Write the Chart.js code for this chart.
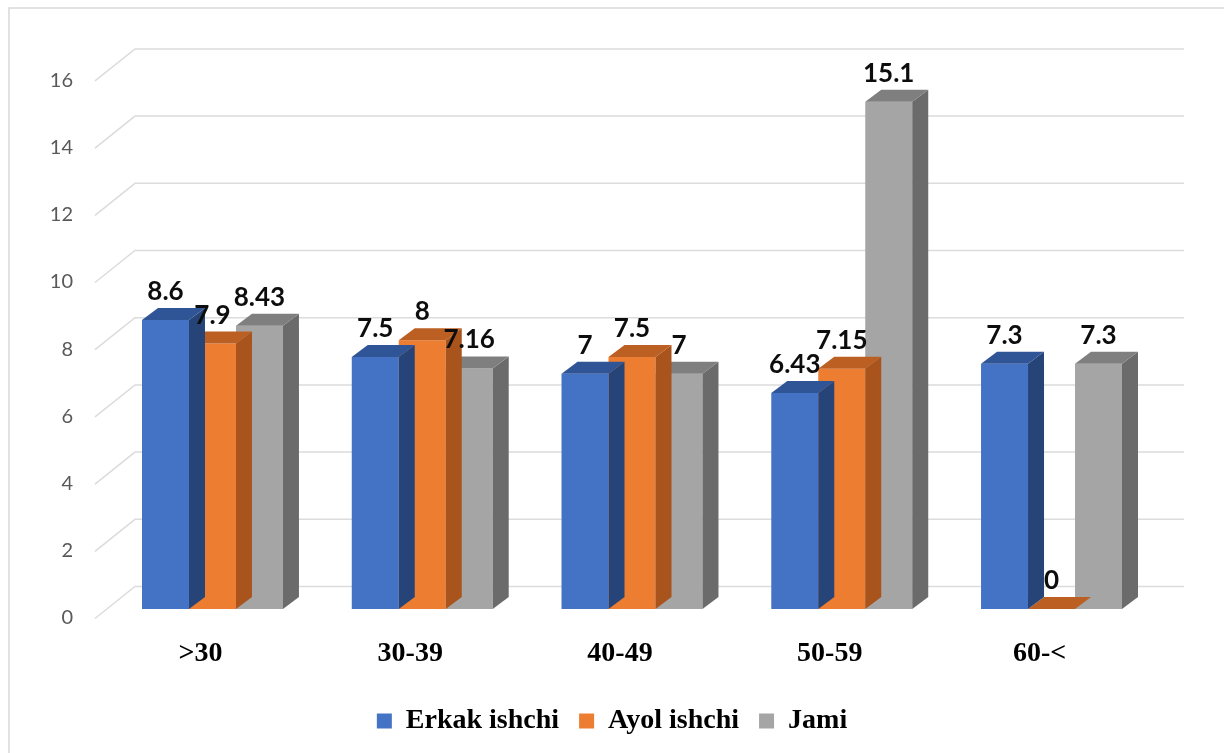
<!DOCTYPE html>
<html><head><meta charset="utf-8">
<script src="https://cdn.jsdelivr.net/npm/chart.js@4"></script>
<style>html,body{margin:0;padding:0;background:#fff;}#wrap{width:1224px;height:753px;}</style>
</head><body><div id="wrap"><canvas id="c" width="1224" height="753"></canvas></div>
<script>
const categories = ['>30', '30-39', '40-49', '50-59', '60-<'];
const erkak = [8.6, 7.5, 7, 6.43, 7.3];
const ayol = [7.9, 8, 7.5, 7.15, 0];
const jami = [8.43, 7.16, 7, 15.1, 7.3];
const seriesNames = ['Erkak ishchi', 'Ayol ishchi', 'Jami'];
const yMin = 0, yMax = 16, yStep = 2;

const frontColors = ['#4472C4', '#ED7D31', '#A5A5A5'];
const topColors = ['#2F5597', '#BC5F22', '#7F7F7F'];
const sideColors = ['#264478', '#A9541C', '#6B6B6B'];
const DX = 16, DY = 12;

const bar3d = {
  id: 'bar3d',
  beforeDraw(chart) {
    const ctx = chart.ctx;
    ctx.save();
    ctx.fillStyle = '#fff';
    ctx.fillRect(0, 0, chart.width, chart.height);
    ctx.strokeStyle = '#D9D9D9';
    ctx.lineWidth = 1.5;
    ctx.strokeRect(9, 8, chart.width + 20, chart.height + 20);
    ctx.restore();
  },
  beforeDatasetsDraw(chart) {
    const ctx = chart.ctx, ys = chart.scales.y;
    ctx.save();
    ctx.strokeStyle = '#DCDCDC';
    ctx.lineWidth = 1.5;
    ys.ticks.forEach(t => {
      const py = ys.getPixelForValue(t.value);
      ctx.beginPath();
      ctx.moveTo(95, py + 9.5);
      ctx.lineTo(135, py - 22.5);
      ctx.lineTo(1184, py - 22.5);
      ctx.stroke();
    });
    ctx.restore();
  },
  afterDatasetDraw(chart, args) {
    const ctx = chart.ctx, i = args.index;
    ctx.save();
    args.meta.data.forEach(el => {
      const p = el.getProps(['x', 'y', 'base', 'width'], true);
      const l = p.x - p.width / 2, r = p.x + p.width / 2;
      ctx.fillStyle = sideColors[i];
      ctx.beginPath();
      ctx.moveTo(r, p.y); ctx.lineTo(r + DX, p.y - DY);
      ctx.lineTo(r + DX, p.base - DY); ctx.lineTo(r, p.base);
      ctx.closePath(); ctx.fill();
      ctx.fillStyle = topColors[i];
      ctx.beginPath();
      ctx.moveTo(l, p.y); ctx.lineTo(r, p.y);
      ctx.lineTo(r + DX, p.y - DY); ctx.lineTo(l + DX, p.y - DY);
      ctx.closePath(); ctx.fill();
    });
    ctx.restore();
  },
  afterDatasetsDraw(chart) {
    const ctx = chart.ctx;
    ctx.save();
    ctx.fillStyle = '#0D0D0D';
    ctx.font = 'bold 26px Lato';
    ctx.textAlign = 'center';
    ctx.textBaseline = 'alphabetic';
    chart.data.datasets.forEach((ds, di) => {
      chart.getDatasetMeta(di).data.forEach((el, j) => {
        const p = el.getProps(['x', 'y'], true);
        ctx.fillText(String(ds.data[j]), p.x, p.y - 20);
      });
    });
    ctx.restore();
  }
};

new Chart(document.getElementById('c'), {
  type: 'bar',
  data: {
    labels: categories,
    datasets: [
      { label: seriesNames[0], data: erkak, backgroundColor: frontColors[0], borderWidth: 0 },
      { label: seriesNames[1], data: ayol, backgroundColor: frontColors[1], borderWidth: 0 },
      { label: seriesNames[2], data: jami, backgroundColor: frontColors[2], borderWidth: 0 }
    ]
  },
  options: {
    responsive: false,
    animation: false,
    devicePixelRatio: 1,
    layout: { padding: { top: 71.4, right: 0, left: 0, bottom: 8 } },
    datasets: { bar: { barPercentage: 1, categoryPercentage: 0.672 } },
    plugins: {
      tooltip: { enabled: false },
      legend: {
        position: 'bottom',
        labels: {
          boxWidth: 15, boxHeight: 15, padding: 20, color: '#000',
          font: { family: "'Liberation Serif'", weight: 'bold', size: 28, lineHeight: 1.0 }
        }
      }
    },
    scales: {
      x: {
        grid: { display: false, drawTicks: false },
        border: { display: false },
        afterFit(s) { s.height = 78; },
        ticks: {
          padding: 28, labelOffset: -12, color: '#000', maxRotation: 0,
          font: { family: "'Liberation Serif'", weight: 'bold', size: 28 }
        }
      },
      y: {
        min: yMin, max: yMax,
        grid: { display: false, drawTicks: false },
        border: { display: false },
        afterFit(s) { s.width = 107.6; },
        ticks: {
          stepSize: yStep, padding: 34.6, labelOffset: 9, color: '#595959',
          font: { family: 'Lato', size: 20 }
        }
      },
      yRightSpacer: {
        type: 'linear', position: 'right', display: true,
        grid: { display: false, drawTicks: false },
        border: { display: false },
        ticks: { display: false },
        afterFit(s) { s.width = 67.6; }
      }
    }
  },
  plugins: [bar3d]
});
</script></body></html>
